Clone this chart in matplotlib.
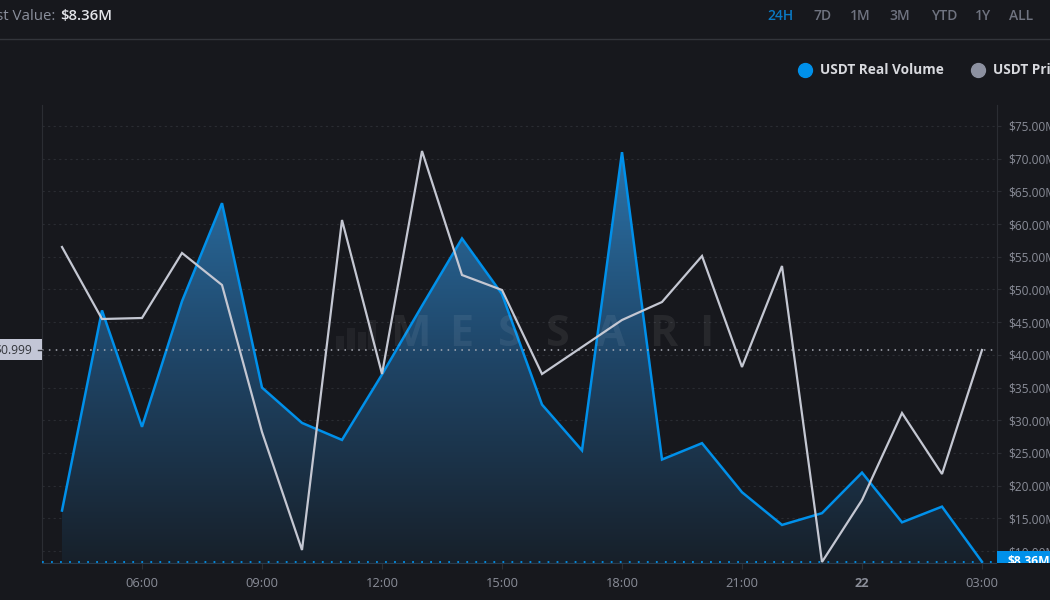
# -*- coding: utf-8 -*-
import numpy as np
import matplotlib
matplotlib.use("Agg")
import matplotlib.pyplot as plt
from matplotlib.colors import LinearSegmentedColormap
from matplotlib.lines import Line2D
from matplotlib.patches import Rectangle

# hours since midnight of the first day, 24 = next day
hours = list(range(4, 28))
volume = [16.2, 46.8, 29.0, 48.2, 63.2, 35.0, 29.6, 27.0, 37.0, 47.5, 57.8, 49.3,
          32.4, 25.4, 71.0, 24.0, 26.5, 19.0, 14.0, 15.8, 22.0, 14.4, 16.8, 8.36]
price = [0.999515, 0.999155, 0.99916, 0.999485, 0.999325, 0.99859, 0.998, 0.99965,
         0.99888, 0.999995, 0.999375, 0.9993, 0.99888, 0.999015, 0.99915, 0.99924,
         0.99947, 0.998915, 0.99942, 0.99794, 0.99825, 0.998685, 0.99838, 0.999]

x_ticks = [6, 9, 12, 15, 18, 21, 24, 27]
x_labels = ["06:00", "09:00", "12:00", "15:00", "18:00", "21:00", "22", "03:00"]
y_ticks = list(range(10, 80, 5))
y_labels = ["$%.2fM" % v for v in y_ticks]
ranges = ["24H", "7D", "1M", "3M", "YTD", "1Y", "ALL"]
range_x = [781, 823, 860, 900, 944, 983, 1021]
watermark = ["M", "E", "S", "S", "A", "R", "I"]
watermark_x = [410, 461, 510, 558, 611, 663, 706]

BG = "#17181d"
BLUE = "#0090ea"
GREY = "#c4c7d2"
LINE = "#2b2d33"
W, H = 1050, 600

plt.rcParams["font.family"] = ["Open Sans", "DejaVu Sans"]


def fx(px):
    return px / W


def fy(py):
    return 1 - py / H


fig = plt.figure(figsize=(10.5, 6), dpi=100, facecolor=BG)
ax = fig.add_axes([fx(42), fy(563), fx(997 - 42), (563 - 105) / H], facecolor=BG)
ax.set_xlim(3.5, 27.375)
ax.set_ylim(8.18, 78.21)

# volume area with vertical gradient, clipped to the area under the line
cmap = LinearSegmentedColormap.from_list("vol", ["#17202a", "#1f4567", "#2b72a8"])
grad = np.linspace(0, 1, 256).reshape(-1, 1)
poly = ax.fill_between(hours, volume, ax.get_ylim()[0], color="none", lw=0)
img = ax.imshow(grad, origin="lower", aspect="auto", cmap=cmap, zorder=2,
                extent=[hours[0], hours[-1], ax.get_ylim()[0], max(volume)])
ax.set_xlim(3.5, 27.375)
ax.set_ylim(8.18, 78.21)
img.set_clip_path(poly.get_paths()[0], transform=ax.transData)

ax.plot(hours, volume, color=BLUE, lw=1.8, zorder=3, solid_joinstyle="miter")
ax.axhline(volume[-1], color=BLUE, lw=1.3, ls=(0, (1, 4)), zorder=4)

# price runs on its own hidden scale
ax2 = ax.twinx()
ax2.set_ylim(0.997935, 1.000225)
ax2.axis("off")
ax2.axhline(price[-1], color="#a9acb6", lw=1.1, ls=(0, (1, 3.5)), zorder=2)
ax2.plot(hours, price, color=GREY, lw=1.6, zorder=3, solid_joinstyle="miter")

ax.yaxis.tick_right()
ax.set_yticks(y_ticks)
ax.set_yticklabels(y_labels)
ax.set_xticks(x_ticks)
ax.set_xticklabels(x_labels)
ax.tick_params(axis="y", colors="#8a8d98", labelsize=8.6, length=3, width=0.8, color=LINE, pad=5)
ax.tick_params(axis="x", colors="#8a8d98", labelsize=9.3, length=4, width=0.8, color=LINE, pad=6)
ax.get_xticklabels()[6].set_fontweight("bold")
ax.grid(axis="y", color="#2a2c32", lw=0.8, ls=(0, (2, 3)), zorder=1)
ax.set_axisbelow(True)
ax.spines["top"].set_visible(False)
for side in ["left", "right"]:
    ax.spines[side].set_color(LINE)
ax.spines["bottom"].set_color("#2a3a4a")
for side in ax2.spines:
    ax2.spines[side].set_visible(False)

# watermark
for letter, lx in zip(watermark, watermark_x):
    fig.text(fx(lx), fy(334), letter, color="white", alpha=0.07, fontsize=31,
             fontweight="bold", ha="center", va="center", zorder=5)
for bx, bh in zip([336, 347, 358, 368], [14, 22, 18, 30]):
    fig.add_artist(Rectangle((fx(bx), fy(350)), fx(8), bh / H, transform=fig.transFigure,
                             facecolor="white", alpha=0.05, lw=0))

# header
fig.add_artist(Line2D([0, 1], [fy(38.5)] * 2, color="#33353b", lw=1))
fig.text(fx(55), fy(16), "Latest Value:", color="#8a8f9c", fontsize=10.8, ha="right", va="center")
fig.text(fx(60), fy(16), "$8.36M", color="#e4e5ea", fontsize=10.8, fontweight="semibold", va="center")
for i, (r, rx) in enumerate(zip(ranges, range_x)):
    fig.text(fx(rx), fy(16), r, color="#0a79c4" if i == 0 else "#6f7380", fontsize=10,
             fontweight="semibold", ha="center", va="center")

# legend
fig.add_artist(Line2D([fx(805)], [fy(70)], marker="o", ms=10, color=BLUE, lw=0))
fig.text(fx(820), fy(70), "USDT Real Volume", color="#d8d9de", fontsize=9.8, fontweight="bold", va="center")
fig.add_artist(Line2D([fx(978)], [fy(70)], marker="o", ms=10, color="#8d91a1", lw=0))
fig.text(fx(993), fy(70), "USDT Price", color="#d8d9de", fontsize=9.8, fontweight="bold", va="center")

# last value labels on both axes
fig.add_artist(Rectangle((0, fy(360)), fx(42), 21 / H, transform=fig.transFigure,
                         facecolor="#c3c6d6", lw=0, zorder=6))
fig.text(fx(32), fy(349.5), "$0.999", color="#33353b", fontsize=8.7, ha="right", va="center", zorder=7)
fig.add_artist(Line2D([fx(38), fx(42)], [fy(350)] * 2, color="#33353b", lw=1, zorder=7))

fig.add_artist(Rectangle((fx(997), fy(563)), fx(53), 12 / H, transform=fig.transFigure,
                         facecolor=BLUE, lw=0, zorder=6))
fig.text(fx(1007), fy(561.5), "$8.36M", color="white", fontsize=8.7, fontweight="bold",
         va="center", zorder=7)
# the label is cut by the bottom of the plot area
fig.add_artist(Rectangle((fx(997), fy(580)), fx(53), 17 / H, transform=fig.transFigure,
                         facecolor=BG, lw=0, zorder=8))

fig.savefig("out.png", dpi=100, facecolor=BG)
